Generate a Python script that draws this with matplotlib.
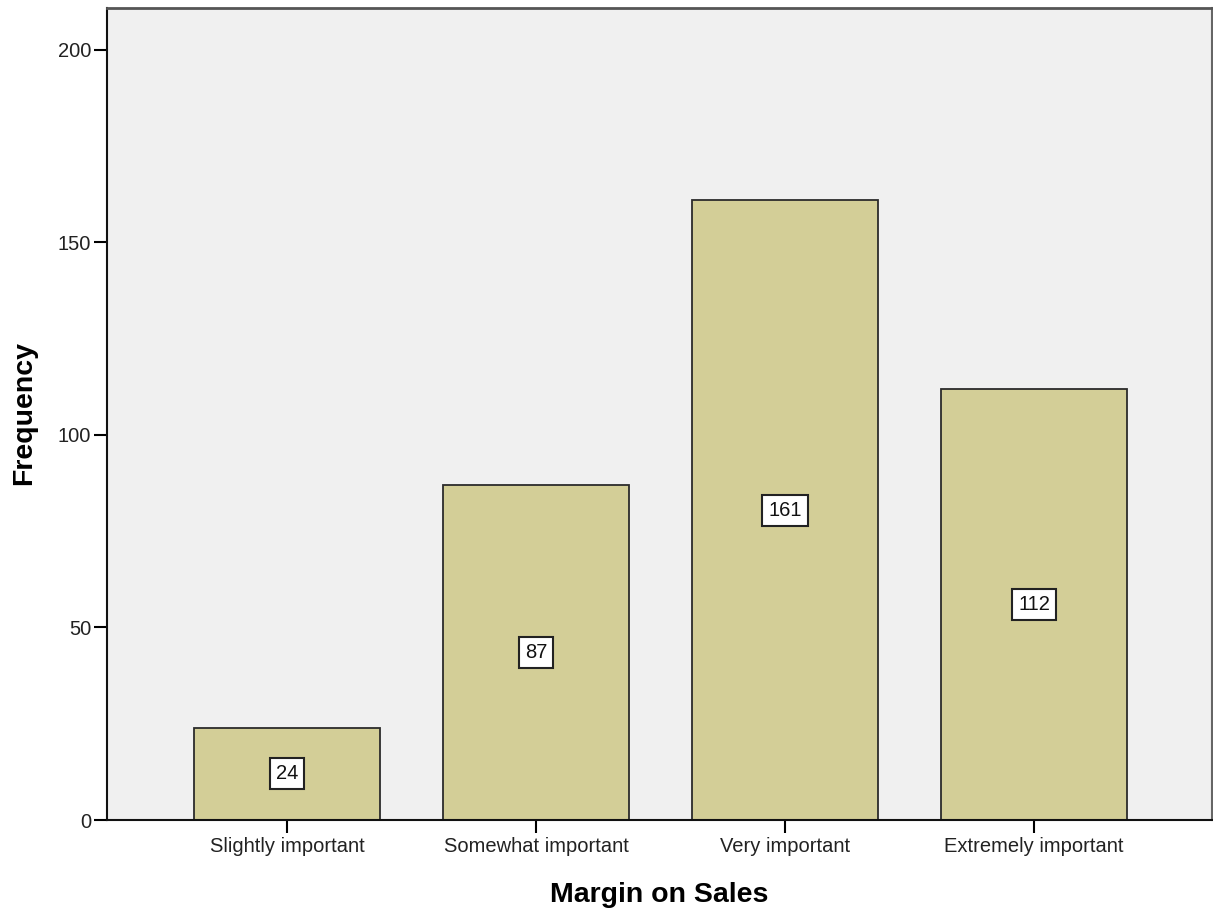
import matplotlib.pyplot as plt

plt.rcParams['font.family'] = ['Liberation Sans', 'DejaVu Sans']

categories = ['Slightly important', 'Somewhat important', 'Very important', 'Extremely important']
counts = [24, 87, 161, 112]
yticks = [0, 50, 100, 150, 200]

BAR_COLOR = '#D3CE97'
BG_COLOR = '#F0F0F0'

fig = plt.figure(figsize=(12.13, 9.10), dpi=100)
ax = fig.add_axes([107 / 1213, 1 - 820 / 910, (1212 - 107) / 1213, (820 - 8) / 910])
ax.set_facecolor(BG_COLOR)

x = range(len(categories))
ax.bar(x, counts, width=0.747, color=BAR_COLOR, edgecolor='#2b2b2b', linewidth=1.3, zorder=2)

# value labels in white boxes at half height
for xi, c in zip(x, counts):
    ax.text(xi, c / 2, str(c), ha='center', va='center', fontsize=14.5, color='#111111', zorder=3,
            bbox=dict(boxstyle='square,pad=0.3', facecolor='white', edgecolor='#222222', linewidth=1.5))

ax.set_xlim(-0.723, 3.715)
ax.set_ylim(0, 210.9)
ax.set_xticks(list(x))
ax.set_xticklabels(categories, fontsize=14.5, color='#222222')
ax.set_yticks(yticks)
ax.set_yticklabels([str(t) for t in yticks], fontsize=14.5, color='#222222')
ax.tick_params(axis='y', length=9.5, width=1.5, pad=2)
ax.tick_params(axis='x', length=9.5, width=1.5, pad=3)

ax.spines['left'].set_color('#111111')
ax.spines['bottom'].set_color('#111111')
ax.spines['left'].set_linewidth(1.5)
ax.spines['bottom'].set_linewidth(1.5)
ax.spines['top'].set_color('#555555')
ax.spines['top'].set_linewidth(2)
ax.spines['right'].set_color('#666666')
ax.spines['right'].set_linewidth(1.5)

ax.set_xlabel('Margin on Sales', fontsize=20.5, fontweight='bold', va='center')
ax.xaxis.set_label_coords((659 - 107) / 1105, (820 - 895) / 812)
ax.set_ylabel('Frequency', fontsize=20.5, fontweight='bold', va='center')
ax.yaxis.set_label_coords((24 - 107) / 1105, (820 - 413) / 812)

fig.savefig('out.png', dpi=100)
